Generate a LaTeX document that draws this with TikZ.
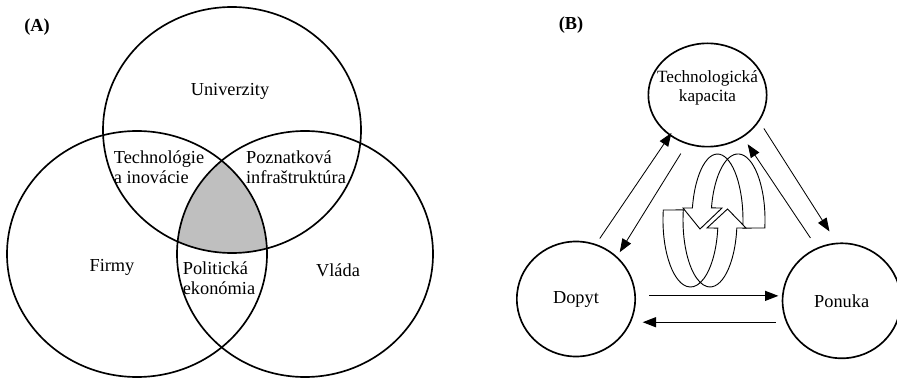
\documentclass[tikz,border=0pt]{standalone}
\usepackage{fontspec}
\setmainfont{Liberation Serif}
\usetikzlibrary{arrows.meta,shapes.geometric}

\begin{document}
\begin{tikzpicture}[x=0.6pt,y=-0.6pt,
  venn/.style={black,line width=1pt},
  bubble/.style={draw,ellipse,line width=1pt,inner sep=0pt},
  pfeil/.style={-{Triangle[length=8pt,width=6pt]},line width=0.5pt},
  ribbon/.style={draw=black,fill=white,line width=0.55pt}]
\tikzstyle{every node}+=[inner sep=0pt,font=\fontsize{11}{12}\selectfont]
\useasboundingbox (0,0) rectangle (897,379);
\begin{scope}
\clip (232,130) ellipse [x radius=129,y radius=123];
\clip (137,254) ellipse [x radius=130,y radius=123];
\fill [black!25] (305,254) ellipse [x radius=128,y radius=123];
\end{scope}
\draw [venn] (232,130) ellipse [x radius=129,y radius=123];
\draw [venn] (137,254) ellipse [x radius=130,y radius=123];
\draw [venn] (305,254) ellipse [x radius=128,y radius=123];
\node (labA) at (37,27) {\textbf{(A)}};
\node (univ) at (230,91) {Univerzity};
\node [align=left] (techino) at (159,167) {Technológie\\a inovácie};
\node [align=left] (poznat) at (296,167) {Poznatková\\infraštruktúra};
\node [align=left] (polit) at (219,278) {Politická\\ekonómia};
\node (firmy) at (112,267) {Firmy};
\node (vlada) at (338,270) {Vláda};
\node (labB) at (571,25) {\textbf{(B)}};
\node [bubble,minimum width=71pt,minimum height=62pt] (tech) at (707.5,95) {};
\node [align=center,font=\fontsize{10.3}{11.4}\selectfont] (techtxt) at (707.5,88) {Technologická\\kapacita};
\node [bubble,minimum width=71pt,minimum height=69pt] (dopyt) at (576,299) {Dopyt};
\node [bubble,minimum width=71pt,minimum height=69pt] (ponuka) at (841.7,300.8) {Ponuka};
\draw [pfeil,shorten <=4pt,shorten >=-2pt] (dopyt.70) -- (tech.227);
\draw [pfeil,shorten <=6.6pt,shorten >=3pt] (tech.247) -- (dopyt.46);
\draw [pfeil,shorten <=5pt,shorten >=8pt] (tech.333) -- (ponuka.95);
\draw [pfeil,shorten <=7pt,shorten >=5pt] (ponuka.115) -- (tech.310);
\draw [pfeil,line width=0.7pt,shorten <=8pt,shorten >=2pt] (dopyt.3) -- (dopyt.3 -| ponuka.west);
\draw [pfeil,line width=0.7pt,shorten <=6pt,shorten >=4pt] (ponuka.201) -- (ponuka.201 -| dopyt.east);
\draw [ribbon] (764.8,228) arc [start angle=7,end angle=-169.5,x radius=27,y radius=66]
  -- (722,208) -- (700,229) -- (683,208) -- (692.4,208)
  arc [start angle=-169.5,end angle=7,x radius=25.5,y radius=66] -- cycle;
\draw [ribbon] (663.3,210) arc [start angle=188.6,end angle=6.9,x radius=27.5,y radius=67]
  -- (707,228) -- (727.5,209) -- (746,228) -- (736.8,228)
  arc [start angle=6.9,end angle=188.6,x radius=27,y radius=67] -- cycle;
\end{tikzpicture}
\end{document}
